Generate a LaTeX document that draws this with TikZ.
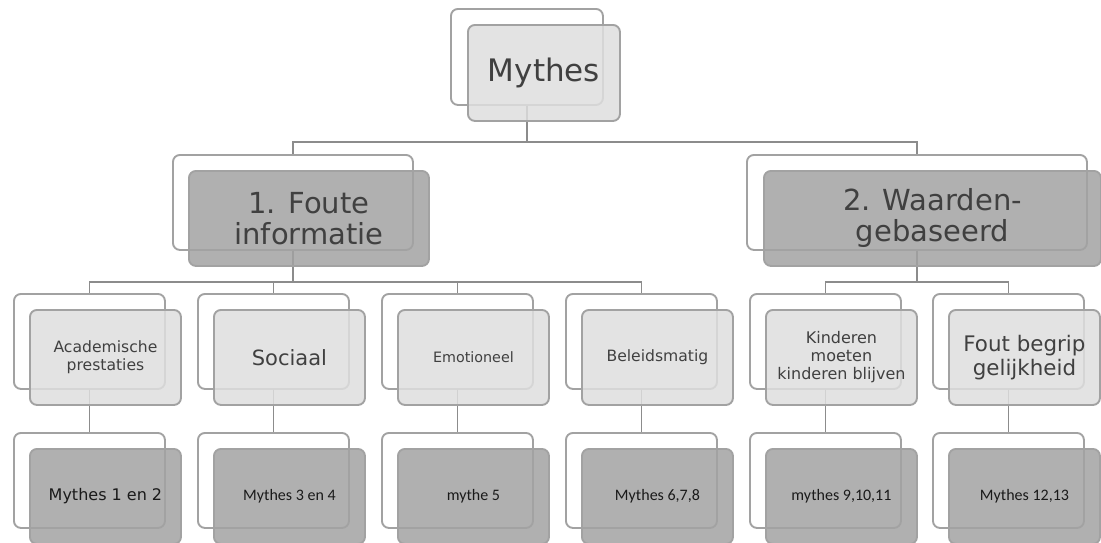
\documentclass[tikz,border=0pt]{standalone}
\usepackage{fontspec}
\setmainfont{DejaVu Sans}
\newfontfamily\carl{Carlito}
\definecolor{bordc}{HTML}{A2A2A2}
\definecolor{linec}{HTML}{8C8C8C}
\definecolor{lightc}{HTML}{DEDEDE}
\definecolor{darkc}{HTML}{A2A2A2}
\definecolor{txt}{HTML}{404040}
\definecolor{txtb}{HTML}{1A1A1A}
\tikzset{
  back/.style={draw=bordc, line width=1.9pt, rounded corners=7pt, minimum width=151pt, minimum height=95pt, inner sep=0pt, anchor=north west},
  front/.style={draw=bordc, line width=1.9pt, rounded corners=7pt, fill opacity=0.85, text opacity=1, minimum width=151pt, minimum height=95pt, inner sep=0pt, anchor=north west, align=center, text=txt},
  light/.style={front, fill=lightc},
  dark/.style={front, fill=darkc},
  conn/.style={draw=linec, line width=1.9pt},
  big/.style={font=\fontsize{29}{31}\selectfont},
  lvthree/.style={dark, text=txtb},
}
\begin{document}
\begin{tikzpicture}[x=1pt,y=-1pt]
\useasboundingbox (0,0) rectangle (1101,542);
\clip (0,0) rectangle (1101,542);
% back boxes
\node[back, minimum width=152pt, minimum height=96pt] (m0b) at (450,8) {};
\node[back, minimum width=240pt] (f1b) at (172,154) {};
\node[back, minimum width=340pt] (w2b) at (746,154) {};
\foreach \n/\x in {a/13,b/197,c/381,d/565,e/749,f/932}{
  \node[back] (\n2b) at (\x,293) {};
  \node[back] (\n3b) at (\x,432) {};
}
% connectors
\draw[conn] (m0b.south) -- ++(0,36) -| (f1b.north);
\draw[conn] (m0b.south) -- ++(0,36) -| (w2b.north);
\foreach \n in {a,b,c,d}{\draw[conn] (f1b.south) -- ++(0,31) -| (\n2b.north);}
\foreach \n in {e,f}{\draw[conn] (w2b.south) -- ++(0,31) -| (\n2b.north);}
\foreach \n in {a,b,c,d,e,f}{\draw[conn] (\n2b.south) -- (\n3b.north);}
% front boxes
\node[light, minimum width=152pt, minimum height=96pt, font=\fontsize{31}{36}\selectfont] (m0f) at (467,24) {Mythes};
\node[dark, minimum width=240pt, big] (f1f) at (188,170) {1. Foute\\informatie};
\node[dark, minimum width=337pt, big] (w2f) at (763,170) {2. Waarden-\\gebaseerd};
\node[light, font=\fontsize{15.6}{18}\selectfont] (a2f) at (29,309) {Academische\\prestaties};
\node[light, font=\fontsize{21}{24}\selectfont] (b2f) at (213,309) {Sociaal};
\node[light, font=\fontsize{14.3}{17}\selectfont] (c2f) at (397,309) {Emotioneel};
\node[light, font=\fontsize{15.6}{18}\selectfont] (d2f) at (581,309) {Beleidsmatig};
\node[light, font=\fontsize{16}{18}\selectfont] (e2f) at (765,309) {Kinderen\\moeten\\kinderen blijven};
\node[light, font=\fontsize{21.4}{24}\selectfont] (f2f) at (948,309) {Fout begrip\\gelijkheid};
\node[lvthree, font=\fontsize{16}{18}\selectfont] (a3f) at (29,448) {Mythes 1 en 2};
\node[lvthree, font=\carl\fontsize{16}{18}\selectfont] (b3f) at (213,448) {Mythes 3 en 4};
\node[lvthree, font=\carl\fontsize{16}{18}\selectfont] (c3f) at (397,448) {mythe 5};
\node[lvthree, font=\carl\fontsize{16}{18}\selectfont] (d3f) at (581,448) {Mythes 6,7,8};
\node[lvthree, font=\carl\fontsize{16}{18}\selectfont] (e3f) at (765,448) {mythes 9,10,11};
\node[lvthree, font=\carl\fontsize{16}{18}\selectfont] (f3f) at (948,448) {Mythes 12,13};
\end{tikzpicture}
\end{document}
